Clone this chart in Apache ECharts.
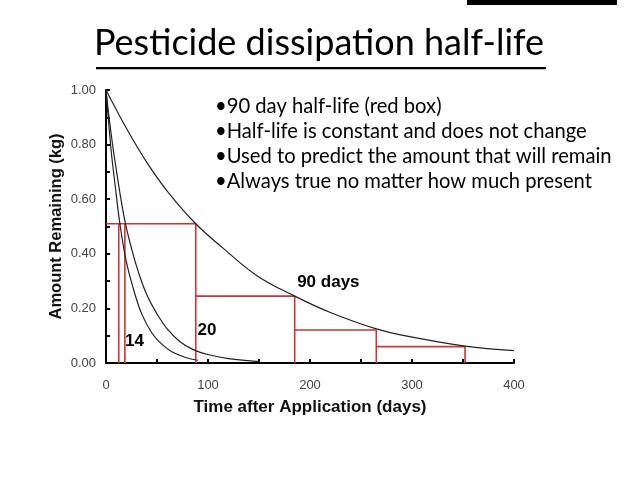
<!DOCTYPE html>
<html>
<head>
<meta charset="utf-8">
<script src="https://cdn.jsdelivr.net/npm/echarts@6/dist/echarts.min.js"></script>
<style>html,body{margin:0;padding:0;background:#fff;}#c{width:638px;height:479px;}</style>
</head>
<body>
<div id="c"></div>
<script>
// ---- data ----
const titleText = 'Pesticide dissipation half-life';
const bullets = [
  '\u202290 day half-life (red box)',
  '\u2022Half-life is constant and does not change',
  '\u2022Used to predict the amount that will remain',
  '\u2022Always true no matter how much present'
];
const yTicks = [0, 0.2, 0.4, 0.6, 0.8, 1.0];
const xTicks = [0, 100, 200, 300, 400];

const curve90 = [[0,1.0],[20,0.86],[40,0.735],[60,0.63],[88,0.51],[115,0.42],[148,0.32],[185,0.245],[220,0.185],[265,0.125],[300,0.095],[352,0.062],[400,0.045]];
const curve20 = [[0,1.0],[5,0.84],[10,0.71],[18,0.53],[25,0.42],[32,0.33],[40,0.25],[50,0.18],[60,0.125],[72,0.08],[85,0.05],[100,0.031],[120,0.016],[150,0.005]];
const curve14 = [[0,1.0],[5,0.78],[9,0.65],[14,0.5],[20,0.37],[27,0.27],[35,0.18],[45,0.11],[55,0.068],[65,0.04],[78,0.02],[90,0.01]];

// red half-life boxes (90 day)
const boxX = [88, 185, 265, 352];
const boxY = [0.51, 0.245, 0.121, 0.06];
// red verticals for the 14 and 20 day half-lives
const shortX = [12.5, 18.5];

const labels = [
  {text: '14', t: 28, v: 0.078},
  {text: '20', t: 99, v: 0.12},
  {text: '90 days', t: 218, v: 0.295}
];

// build red path
const redPath = [[0, boxY[0]]];
let prevX = 0;
for (let i = 0; i < boxX.length; i++) {
  if (i > 0) redPath.push([prevX, boxY[i]]);
  redPath.push([boxX[i], boxY[i]]);
  redPath.push([boxX[i], 0]);
  redPath.push(null);
  prevX = boxX[i];
}
for (const sx of shortX) {
  redPath.push([sx, 0]); redPath.push([sx, boxY[0]]); redPath.push(null);
}

const chart = echarts.init(document.getElementById('c'), null, {renderer: 'canvas'});
const curveStyle = {color: '#222', width: 1.2};
const option = {
  animation: false,
  backgroundColor: '#fff',
  grid: {left: 106, right: 124, top: 90, bottom: 116},
  xAxis: {
    type: 'value', min: 0, max: 400, interval: 100,
    axisLine: {lineStyle: {color: '#000', width: 2}},
    axisTick: {inside: true, length: 4, lineStyle: {color: '#000', width: 2}},
    minorTick: {show: true, splitNumber: 2, length: 4, lineStyle: {color: '#000', width: 2}},
    splitLine: {show: false},
    axisLabel: {margin: 16, color: '#444', fontFamily: 'Liberation Sans', fontSize: 13},
    name: 'Time after Application (days)', nameLocation: 'middle', nameGap: 36,
    nameTextStyle: {fontFamily: 'Liberation Sans', fontWeight: 'bold', fontSize: 17, color: '#111'}
  },
  yAxis: {
    type: 'value', min: 0, max: 1, interval: 0.2,
    axisLine: {show: true, lineStyle: {color: '#000', width: 2}},
    axisTick: {show: true, inside: true, length: 4, lineStyle: {color: '#000', width: 2}},
    minorTick: {show: true, splitNumber: 2, length: 4, lineStyle: {color: '#000', width: 2}},
    splitLine: {show: false},
    axisLabel: {margin: 10, color: '#444', fontFamily: 'Liberation Sans', fontSize: 13,
      formatter: v => v.toFixed(2)},
    name: 'Amount Remaining (kg)', nameLocation: 'middle', nameGap: 41, nameMoveOverlap: false,
    nameTextStyle: {fontFamily: 'Liberation Sans', fontWeight: 'bold', fontSize: 16.5, color: '#111'}
  },
  series: [
    {type: 'line', data: redPath, symbol: 'none', connectNulls: false,
      lineStyle: {color: '#cc3436', width: 1.6}, z: 2},
    {type: 'line', data: curve90, smooth: 0.4, symbol: 'none', lineStyle: curveStyle, z: 3},
    {type: 'line', data: curve20, smooth: 0.4, symbol: 'none', lineStyle: curveStyle, z: 3},
    {type: 'line', data: curve14, smooth: 0.4, symbol: 'none', lineStyle: curveStyle, z: 3},
    {type: 'scatter', symbolSize: 0, z: 4, itemStyle: {opacity: 1},
      data: labels.map(l => ({value: [l.t, l.v], name: l.text})),
      label: {show: true, position: 'inside', formatter: p => p.name, opacity: 1,
        fontFamily: 'Liberation Sans', fontWeight: 'bold', fontSize: 17, color: '#000'}}
  ],
  graphic: [
    {type: 'rect', shape: {x: 467, y: 0, width: 150, height: 5}, style: {fill: '#000'}},
    {type: 'text', left: 'center', top: 25,
      style: {text: titleText, fontFamily: 'Lato', fontSize: 36, fill: '#000'}},
    {type: 'rect', shape: {x: 96, y: 67, width: 450, height: 2.2}, style: {fill: '#000'}}
  ].concat(bullets.map((b, i) => ({
    type: 'text', left: 215, top: 96 + i * 25.3,
    style: {text: b, fontFamily: 'Lato', fontSize: 20.2, fill: '#000'}
  })))
};
chart.setOption(option);
</script>
</body>
</html>
